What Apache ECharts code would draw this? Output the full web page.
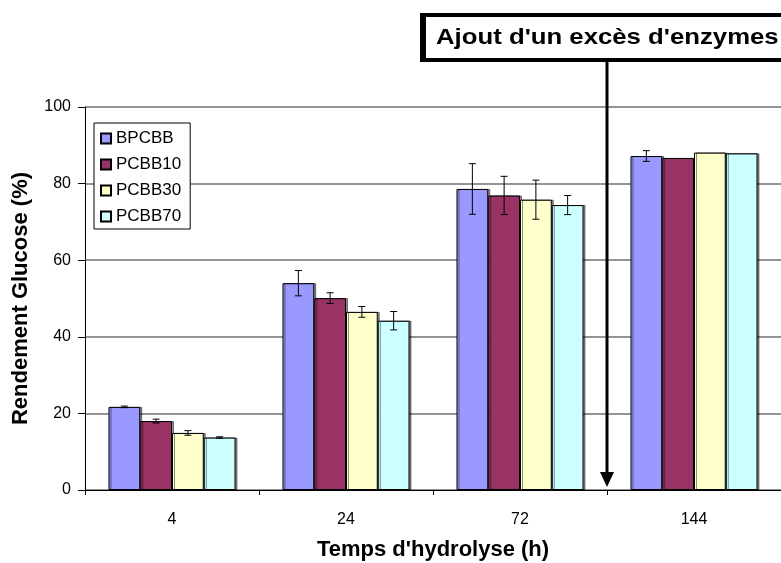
<!DOCTYPE html>
<html>
<head>
<meta charset="utf-8">
<script src="https://cdn.jsdelivr.net/npm/echarts@6/dist/echarts.min.js"></script>
<style>
  html, body { margin: 0; padding: 0; background: #fff; }
  #chart { width: 781px; height: 563px; }
</style>
</head>
<body>
<div id="chart"></div>
<script>
var categories = ['4', '24', '72', '144'];
var seriesNames = ['BPCBB', 'PCBB10', 'PCBB30', 'PCBB70'];
var bpcbb = [21.7, 54.0, 78.6, 87.2];
var pcbb10 = [18.0, 50.1, 76.9, 86.7];
var pcbb30 = [14.9, 46.5, 75.8, 88.1];
var pcbb70 = [13.7, 44.2, 74.4, 87.9];
// standard deviation (error bar half-length)
var errBpcbb = [0.2, 3.3, 6.6, 1.4];
var errPcbb10 = [0.5, 1.4, 5.0, 0];
var errPcbb30 = [0.6, 1.4, 5.1, 0];
var errPcbb70 = [0.2, 2.4, 2.5, 0];
var yTicks = [0, 20, 40, 60, 80, 100];
var noteText = "Ajout d'un excès d'enzymes";

var myColor = ['#9999FF', '#993366', '#FFFFCC', '#CCFFFF'];
var values = [bpcbb, pcbb10, pcbb30, pcbb70];
var errors = [errBpcbb, errPcbb10, errPcbb30, errPcbb70];
var GAP = 0.27;
var FONT = 'Liberation Sans, Arial, sans-serif';

var errData = [];
values.forEach(function (arr, s) {
  arr.forEach(function (v, c) {
    var e = errors[s][c];
    if (e > 0) errData.push([c, s, v - e, v + e]);
  });
});

var series = seriesNames.map(function (name, i) {
  return {
    name: name,
    type: 'bar',
    data: values[i],
    barGap: '0%',
    barCategoryGap: (GAP * 100) + '%',
    itemStyle: {
      color: myColor[i],
      borderColor: '#000',
      borderWidth: 1,
      shadowColor: 'rgba(0,0,0,0.45)',
      shadowOffsetX: 2,
      shadowOffsetY: 0,
      shadowBlur: 0
    }
  };
});

series.push({
  type: 'custom',
  data: errData,
  z: 10,
  encode: { x: 0, y: [2, 3] },
  renderItem: function (params, api) {
    var cat = api.value(0), s = api.value(1);
    var band = api.size([1, 0])[0];
    var barW = band * (1 - GAP) / 4;
    var cx = api.coord([cat, 0])[0] + (s - 1.5) * barW;
    var yLo = api.coord([cat, api.value(2)])[1];
    var yHi = api.coord([cat, api.value(3)])[1];
    var style = { stroke: '#000', lineWidth: 1 };
    return {
      type: 'group',
      children: [
        { type: 'line', shape: { x1: cx, y1: yLo, x2: cx, y2: yHi }, style: style },
        { type: 'line', shape: { x1: cx - 3.5, y1: yLo, x2: cx + 3.5, y2: yLo }, style: style },
        { type: 'line', shape: { x1: cx - 3.5, y1: yHi, x2: cx + 3.5, y2: yHi }, style: style }
      ]
    };
  }
});

var option = {
  animation: false,
  textStyle: { fontFamily: FONT },
  grid: { left: 85, right: 0, top: 107, bottom: 73, outerBoundsMode: 'none', containLabel: false },
  legend: {
    data: seriesNames,
    orient: 'vertical',
    left: 94,
    top: 123,
    itemWidth: 10,
    itemHeight: 10,
    itemGap: 9,
    padding: [7, 9, 4, 6],
    borderColor: '#000',
    borderWidth: 1,
    backgroundColor: '#fff',
    icon: 'rect',
    textStyle: { fontSize: 17, color: '#000', fontFamily: FONT, lineHeight: 16 }
  },
  xAxis: {
    type: 'category',
    data: categories,
    name: "Temps d'hydrolyse (h)",
    nameLocation: 'middle',
    nameGap: 49,
    nameTextStyle: { fontSize: 22, fontWeight: 'bold', color: '#000', fontFamily: FONT },
    axisLine: { lineStyle: { color: '#000', width: 1 } },
    axisTick: { show: true, length: 5, lineStyle: { color: '#000' } },
    axisLabel: { fontSize: 16, color: '#000', margin: 22, fontFamily: FONT }
  },
  yAxis: {
    type: 'value',
    min: yTicks[0],
    max: yTicks[yTicks.length - 1],
    interval: 20,
    name: 'Rendement Glucose (%)',
    nameLocation: 'middle',
    nameGap: 53,
    nameTextStyle: { fontSize: 22, fontWeight: 'bold', color: '#000', fontFamily: FONT },
    axisLine: { show: true, lineStyle: { color: '#000', width: 1 } },
    axisTick: { show: true, length: 7, lineStyle: { color: '#000' } },
    axisLabel: { fontSize: 16, color: '#000', margin: 14, fontFamily: FONT },
    splitLine: { show: true, lineStyle: { color: '#707070', width: 1.5 } }
  },
  series: series
};

var myChart = echarts.init(document.getElementById('chart'));
myChart.setOption(option);

// annotation: box + arrow at the boundary between 72 and 144
var x72 = myChart.convertToPixel({ xAxisIndex: 0 }, '72');
var x144 = myChart.convertToPixel({ xAxisIndex: 0 }, '144');
var arrowX = Math.round((x72 + x144) / 2);
var yZero = myChart.convertToPixel({ yAxisIndex: 0 }, 0);

myChart.setOption({
  graphic: [
    { type: 'rect', shape: { x: 420, y: 13, width: 420, height: 49 }, style: { fill: '#000' }, z: 100 },
    { type: 'rect', shape: { x: 426, y: 17, width: 420, height: 41 }, style: { fill: '#fff' }, z: 101 },
    {
      type: 'text', x: 436, y: 38, z: 102, scaleX: 1.17,
      style: { text: noteText, fontSize: 22, fontWeight: 'bold', fontFamily: FONT, fill: '#000', verticalAlign: 'middle' }
    },
    { type: 'line', shape: { x1: arrowX, y1: 62, x2: arrowX, y2: yZero - 16 }, style: { stroke: '#000', lineWidth: 3 }, z: 100 },
    {
      type: 'polygon', z: 100,
      shape: { points: [[arrowX - 7, yZero - 18], [arrowX + 7, yZero - 18], [arrowX, yZero - 3]] },
      style: { fill: '#000' }
    }
  ]
});

window.addEventListener('resize', function () {
  myChart.resize();
});
</script>
</body>
</html>
